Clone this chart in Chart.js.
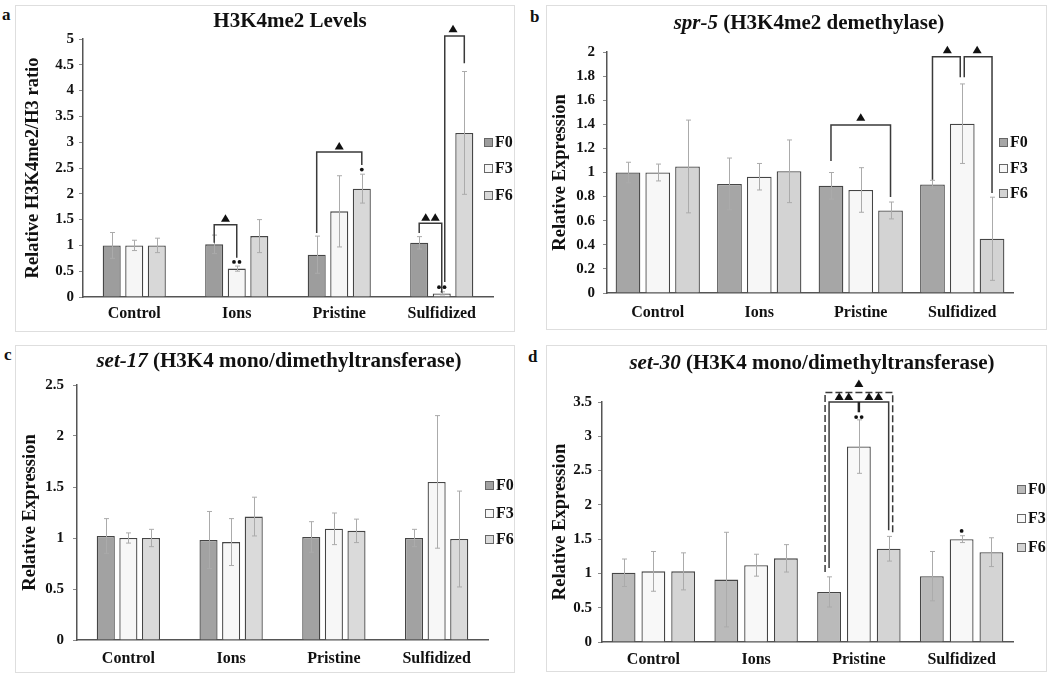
<!DOCTYPE html>
<html>
<head>
<meta charset="utf-8">
<script src="https://cdn.jsdelivr.net/npm/chart.js@4.4.0/dist/chart.umd.min.js"></script>
<style>
  html, body { margin: 0; padding: 0; background: #fff; }
  body { width: 1050px; height: 676px; position: relative; overflow: hidden; font-family: "Liberation Serif", "Times New Roman", serif; color: #111; }
  .frame { position: absolute; border: 1px solid #dedede; box-sizing: border-box; }
  .cv { position: absolute; }
  .title { position: absolute; font-weight: bold; font-size: 21px; white-space: nowrap; transform: translate(-50%, -50%); line-height: 1; }
  .plab { position: absolute; font-weight: bold; font-size: 17px; line-height: 1; }
  .leg { position: absolute; font-weight: bold; font-size: 16px; line-height: 1; white-space: nowrap; transform: translateY(-50%); display: flex; align-items: center; }
  .leg i { display: inline-block; width: 7px; height: 7px; border: 1px solid #666; margin-right: 2px; }
</style>
</head>
<body>

<div class="frame" style="left:15px;top:5px;width:500px;height:327px"></div>
<div class="frame" style="left:546px;top:5px;width:501px;height:325px"></div>
<div class="frame" style="left:15px;top:345px;width:500px;height:328px"></div>
<div class="frame" style="left:546px;top:345px;width:501px;height:327px"></div>

<canvas id="ca" class="cv" style="left:15px;top:5px" width="500" height="327"></canvas>
<canvas id="cb" class="cv" style="left:546px;top:5px" width="501" height="325"></canvas>
<canvas id="cc" class="cv" style="left:15px;top:345px" width="500" height="328"></canvas>
<canvas id="cd" class="cv" style="left:546px;top:345px" width="501" height="327"></canvas>

<div class="plab" style="left:2px;top:6px">a</div>
<div class="plab" style="left:530px;top:8px">b</div>
<div class="plab" style="left:4px;top:346px">c</div>
<div class="plab" style="left:528px;top:348px">d</div>

<div class="title" style="left:290px;top:20px">H3K4me2 Levels</div>
<div class="title" style="left:809px;top:22px"><i>spr-5</i> (H3K4me2 demethylase)</div>
<div class="title" style="left:279px;top:360px"><i>set-17</i> (H3K4 mono/dimethyltransferase)</div>
<div class="title" style="left:812px;top:362px"><i>set-30</i> (H3K4 mono/dimethyltransferase)</div>

<div id="legends"></div>

<script>
// ---------------- DATA ----------------
const categories = ['Control', 'Ions', 'Pristine', 'Sulfidized'];
const seriesNames = ['F0', 'F3', 'F6'];

// (a) H3K4me2 Levels
const aTicks = [0, 0.5, 1, 1.5, 2, 2.5, 3, 3.5, 4, 4.5, 5];
const aF0 = [1.00, 1.02, 0.82, 1.05];
const aF3 = [1.00, 0.55, 1.66, 0.07];
const aF6 = [1.00, 1.18, 2.10, 3.18];
const aF0Err = [0.25, 0.18, 0.36, 0.12];
const aF3Err = [0.10, 0.05, 0.69, 0.03];
const aF6Err = [0.14, 0.32, 0.28, 1.19];

// (b) spr-5
const bTicks = [0, 0.2, 0.4, 0.6, 0.8, 1, 1.2, 1.4, 1.6, 1.8, 2];
const bF0 = [1.00, 0.905, 0.89, 0.90];
const bF3 = [1.00, 0.965, 0.855, 1.405];
const bF6 = [1.05, 1.01, 0.685, 0.45];
const bF0Err = [0.085, 0.215, 0.11, 0.035];
const bF3Err = [0.07, 0.11, 0.185, 0.33];
const bF6Err = [0.385, 0.26, 0.07, 0.345];

// (c) set-17
const cTicks = [0, 0.5, 1, 1.5, 2, 2.5];
const cF0 = [1.02, 0.98, 1.01, 1.00];
const cF3 = [1.00, 0.96, 1.09, 1.55];
const cF6 = [1.00, 1.21, 1.07, 0.99];
const cF0Err = [0.17, 0.28, 0.15, 0.085];
const cF3Err = [0.05, 0.23, 0.155, 0.65];
const cF6Err = [0.085, 0.19, 0.115, 0.47];

// (d) set-30
const dTicks = [0, 0.5, 1, 1.5, 2, 2.5, 3, 3.5];
const dF0 = [1.01, 0.91, 0.73, 0.96];
const dF3 = [1.03, 1.12, 2.85, 1.50];
const dF6 = [1.03, 1.22, 1.36, 1.31];
const dF0Err = [0.20, 0.69, 0.22, 0.36];
const dF3Err = [0.29, 0.16, 0.39, 0.05];
const dF6Err = [0.27, 0.20, 0.18, 0.21];

// significance brackets: bars given as [categoryIndex, seriesIndex], levels in data units
const aBrackets = [
  { a: [1, 0], b: [1, 1], top: 1.40, ya: 1.05, yb: 0.76 },
  { a: [2, 0], b: [2, 2], top: 2.81, ya: 1.24, yb: 2.56 },
  { a: [3, 0], b: [3, 1], top: 1.43, ya: 1.24, yb: 0.08 },
  { a: [3, 1], b: [3, 2], top: 5.06, ya: 0.29, yb: 4.53, dxa: 3 }
];
const aTriangles = [
  { a: [1, 0], b: [1, 1], y: 1.46, n: 1 },
  { a: [2, 0], b: [2, 2], y: 2.86, n: 1 },
  { a: [3, 0], b: [3, 1], y: 1.48, n: 2 },
  { a: [3, 1], b: [3, 2], y: 5.13, n: 1 }
];
const aStars = [
  { at: [1, 1], y: 0.68, n: 2 },
  { at: [2, 2], y: 2.47, n: 1 },
  { at: [3, 1], y: 0.19, n: 2 }
];

const bBrackets = [
  { a: [2, 0], b: [2, 2], top: 1.394, ya: 1.095, yb: 0.797 },
  { a: [3, 0], b: [3, 1], top: 1.96, ya: 0.94, yb: 1.79, dxb: -2 },
  { a: [3, 1], b: [3, 2], top: 1.96, ya: 1.79, yb: 0.83, dxa: 2 }
];
const bTriangles = [
  { a: [2, 0], b: [2, 2], y: 1.43, n: 1 },
  { a: [3, 0], b: [3, 1], y: 1.99, n: 1 },
  { a: [3, 1], b: [3, 2], y: 1.99, n: 1 }
];
const bStars = [];

const dBrackets = [
  { a: [2, 0], b: [2, 2], top: 3.64, ya: 1.02, yb: 1.59, dxa: -4, dxb: 4, dash: true },
  { a: [2, 0], b: [2, 2], top: 3.50, ya: 1.08, yb: 1.63 }
];
const dStems = [{ at: [2, 1], y1: 3.50, y2: 3.35 }];
const dTriangles = [
  { a: [2, 0], b: [2, 1], y: 3.53, n: 2 },
  { a: [2, 1], b: [2, 2], y: 3.53, n: 2 },
  { a: [2, 1], b: [2, 1], y: 3.72, n: 1 }
];
const dStars = [
  { at: [2, 1], y: 3.28, n: 2 },
  { at: [3, 1], y: 1.62, n: 1 }
];

// ---------------- DRAWING ----------------
const FONT = '"Liberation Serif", "Times New Roman", serif';

const annotPlugin = {
  id: 'annot',
  afterDatasetsDraw(chart, args, opts) {
    const ctx = chart.ctx, ys = chart.scales.y;
    const bx = (c, d) => chart.getDatasetMeta(d).data[c].x;
    const py = v => ys.getPixelForValue(v);
    ctx.save();
    // error bars
    ctx.strokeStyle = '#ababab';
    ctx.lineWidth = 1;
    (opts.errors || []).forEach((arr, d) => {
      arr.forEach((e, c) => {
        const v = chart.data.datasets[d].data[c];
        const x = Math.round(bx(c, d)) + 0.5;
        const y1 = py(v + e), y2 = py(Math.max(0, v - e));
        ctx.beginPath();
        ctx.moveTo(x, y1); ctx.lineTo(x, y2);
        ctx.moveTo(x - 2.5, y1); ctx.lineTo(x + 2.5, y1);
        ctx.moveTo(x - 2.5, y2); ctx.lineTo(x + 2.5, y2);
        ctx.stroke();
      });
    });
    // brackets
    ctx.strokeStyle = '#3a3a3a';
    ctx.lineWidth = 1.5;
    (opts.brackets || []).forEach(b => {
      const xa = bx(b.a[0], b.a[1]) + (b.dxa || 0);
      const xb = bx(b.b[0], b.b[1]) + (b.dxb || 0);
      ctx.setLineDash(b.dash ? [7, 3] : []);
      ctx.beginPath();
      ctx.moveTo(xa, py(b.ya));
      ctx.lineTo(xa, py(b.top));
      ctx.lineTo(xb, py(b.top));
      ctx.lineTo(xb, py(b.yb));
      ctx.stroke();
    });
    ctx.setLineDash([]);
    // stems
    ctx.lineWidth = 2.5;
    ctx.strokeStyle = '#222';
    (opts.stems || []).forEach(s => {
      const x = bx(s.at[0], s.at[1]);
      ctx.beginPath();
      ctx.moveTo(x, py(s.y1));
      ctx.lineTo(x, py(s.y2));
      ctx.stroke();
    });
    // triangles
    ctx.fillStyle = '#111';
    (opts.triangles || []).forEach(m => {
      const cx = (bx(m.a[0], m.a[1]) + bx(m.b[0], m.b[1])) / 2;
      const base = py(m.y);
      for (let i = 0; i < m.n; i++) {
        const x = cx + (i - (m.n - 1) / 2) * 9.5;
        ctx.beginPath();
        ctx.moveTo(x - 4.5, base);
        ctx.lineTo(x + 4.5, base);
        ctx.lineTo(x, base - 7.5);
        ctx.closePath();
        ctx.fill();
      }
    });
    // asterisks (rendered as dots)
    (opts.stars || []).forEach(s => {
      const cx = bx(s.at[0], s.at[1]);
      const y = py(s.y);
      for (let i = 0; i < s.n; i++) {
        const x = cx + (i - (s.n - 1) / 2) * 5.5;
        ctx.beginPath();
        ctx.arc(x, y, 1.9, 0, Math.PI * 2);
        ctx.fill();
      }
    });
    ctx.restore();
  }
};

function makePanel(p) {
  const datasets = p.series.map((vals, i) => ({
    label: seriesNames[i],
    data: vals,
    backgroundColor: p.colors[i],
    borderColor: '#454545',
    borderWidth: 1.3,
    categoryPercentage: p.cp,
    barPercentage: p.bp
  }));
  new Chart(document.getElementById(p.id), {
    type: 'bar',
    data: { labels: categories, datasets },
    plugins: [annotPlugin],
    options: {
      responsive: false,
      animation: false,
      devicePixelRatio: 1,
      layout: { padding: { left: 0, right: p.padR, top: p.padT, bottom: 0 } },
      plugins: {
        legend: { display: false },
        title: { display: false },
        tooltip: { enabled: false },
        annot: {
          errors: p.errors, brackets: p.brackets, triangles: p.triangles,
          stars: p.stars, stems: p.stems || []
        }
      },
      scales: {
        x: {
          grid: { display: false, drawTicks: false },
          border: { display: true, color: '#555', width: 1.5 },
          ticks: { color: '#111', padding: p.xPad, font: { family: FONT, size: 16, weight: 'bold' } },
          afterFit: s => { s.height = p.xh; }
        },
        y: {
          min: 0,
          max: p.ticks[p.ticks.length - 1],
          afterBuildTicks: s => { s.ticks = p.ticks.map(v => ({ value: v })); },
          grid: { display: true, drawOnChartArea: false, drawTicks: true, tickLength: 4, color: '#8a8a8a' },
          border: { display: true, color: '#555', width: 1.5 },
          ticks: {
            color: '#111', padding: p.yPad,
            font: { family: FONT, size: 15, weight: 'bold' },
            callback: v => String(+(+v).toFixed(2))
          },
          title: {
            display: true, text: p.yTitle, color: '#111',
            font: { family: FONT, size: 18.5, weight: 'bold' },
            padding: { top: p.yTitlePad, bottom: 0 }
          },
          afterFit: s => { s.width = p.yw; }
        }
      }
    }
  });
}

// legends (HTML)
function makeLegend(x, ys, colors) {
  const host = document.getElementById('legends');
  seriesNames.forEach((n, i) => {
    const d = document.createElement('div');
    d.className = 'leg';
    d.style.left = x + 'px';
    d.style.top = ys[i] + 'px';
    d.innerHTML = '<i style="background:' + colors[i] + '"></i>' + n;
    host.appendChild(d);
  });
}

const colA = ['#9d9d9d', '#f6f6f6', '#d8d8d8'];
const colB = ['#a6a6a6', '#f7f7f7', '#d3d3d3'];
const colC = ['#a2a2a2', '#f7f7f7', '#dadada'];
const colD = ['#bababa', '#f8f8f8', '#d4d4d4'];

makePanel({
  id: 'ca', series: [aF0, aF3, aF6], errors: [aF0Err, aF3Err, aF6Err], colors: colA,
  ticks: aTicks, yTitle: 'Relative H3K4me2/H3 ratio',
  yw: 68, padR: 22, padT: 34, xh: 35, xPad: 7, yPad: 5, yTitlePad: 7,
  cp: 0.66, bp: 0.8,
  brackets: aBrackets, triangles: aTriangles, stars: aStars
});
makePanel({
  id: 'cb', series: [bF0, bF3, bF6], errors: [bF0Err, bF3Err, bF6Err], colors: colB,
  ticks: bTicks, yTitle: 'Relative Expression',
  yw: 61, padR: 34, padT: 47, xh: 37, xPad: 10, yPad: 8, yTitlePad: 3,
  cp: 0.88, bp: 0.83,
  brackets: bBrackets, triangles: bTriangles, stars: bStars
});
makePanel({
  id: 'cc', series: [cF0, cF3, cF6], errors: [cF0Err, cF3Err, cF6Err], colors: colC,
  ticks: cTicks, yTitle: 'Relative Expression',
  yw: 62, padR: 27, padT: 40, xh: 33, xPad: 9, yPad: 9, yTitlePad: 4,
  cp: 0.66, bp: 0.8,
  brackets: [], triangles: [], stars: []
});
makePanel({
  id: 'cd', series: [dF0, dF3, dF6], errors: [dF0Err, dF3Err, dF6Err], colors: colD,
  ticks: dTicks, yTitle: 'Relative Expression',
  yw: 56, padR: 34, padT: 57, xh: 30, xPad: 8, yPad: 6, yTitlePad: 3,
  cp: 0.87, bp: 0.8,
  brackets: dBrackets, triangles: dTriangles, stars: dStars, stems: dStems
});

makeLegend(484, [142, 168, 195], colA);
makeLegend(999, [142, 168, 193], colB);
makeLegend(485, [485, 513, 539], colC);
makeLegend(1017, [489, 518, 547], colD);
</script>
</body>
</html>
